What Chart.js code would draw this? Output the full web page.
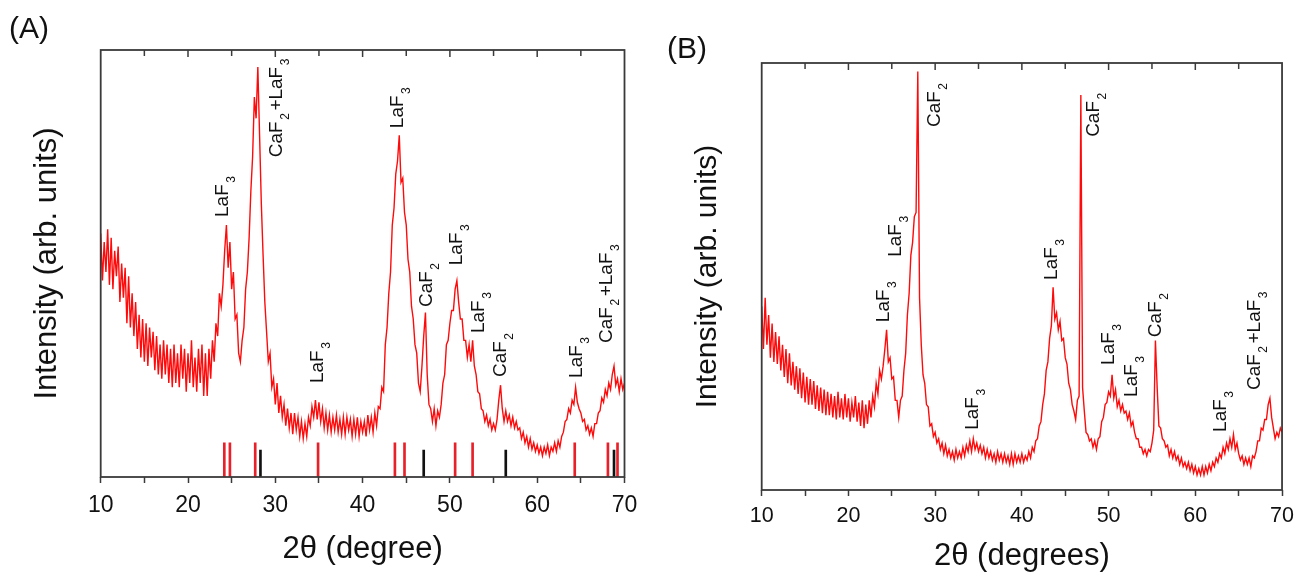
<!DOCTYPE html>
<html>
<head>
<meta charset="utf-8">
<title>XRD patterns (A) and (B)</title>
<script src="https://cdn.jsdelivr.net/npm/chart.js@4.4.1/dist/chart.umd.min.js"></script>
<style>
  html, body { margin: 0; padding: 0; background: #fff; }
  body { width: 1301px; height: 572px; position: relative; overflow: hidden;
         font-family: "Liberation Sans", Arial, Helvetica, sans-serif; }
  .panel { position: absolute; top: 0; height: 572px; }
  #boxA { left: 0; width: 650px; }
  #boxB { left: 650px; width: 651px; }
  .tag { position: absolute; font-size: 30px; color: #111; }
</style>
</head>
<body>
<div class="panel" id="boxA"><canvas id="chartA"></canvas></div>
<div class="panel" id="boxB"><canvas id="chartB"></canvas></div>
<div class="tag" style="left:9px; top:11px">(A)</div>
<div class="tag" style="left:667px; top:31px">(B)</div>

<script>
var FONT = '"Liberation Sans", Arial, Helvetica, sans-serif';

// scan grid: 10..70 degrees, 0.2 degree step
var scanStart = 10;
var scanStep = 0.2;
var scanCount = 301;
var angles = [];
for (var i = 0; i < scanCount; i++) {
    angles.push(+(scanStart + i * scanStep).toFixed(1));
}

var xTickLabels = [10, 20, 30, 40, 50, 60, 70];

// Panel A intensity (arb. units, 0-100), 5 points per degree
var intensityA = [
    57, 46, 55, 48, 58,   45, 56, 44, 53, 47,      // 10, 11
    54, 41, 50, 42, 49,   36, 47, 35, 43, 33,      // 12, 13
    41, 30, 38, 28, 37,   27, 36, 26, 35, 28,      // 14, 15
    34, 25, 33, 24, 31,   23, 32, 24, 31, 22,      // 16, 17
    30, 21, 31, 22, 29,   21, 31, 23, 30, 20,      // 18, 19
    29, 22, 32, 21, 28,   20, 30, 22, 31, 19,      // 20, 21
    29, 19, 30, 23, 32,   27, 36, 33, 43, 40,      // 22, 23
    45, 53, 59, 49, 55,   44, 48, 37, 38, 29,      // 24, 25
    27, 32, 35, 44, 48,   56, 67, 75, 89, 84,      // 26, 27
    96, 80, 64, 52, 41,   34, 27, 29, 21, 23,      // 28, 29
    17, 22, 15, 19, 14,   17, 12, 16, 11.5, 15,    // 30, 31
    10, 15, 11, 14, 9.5,  13, 9, 12.5, 9.5, 14,    // 32, 33
    12, 16.5, 14, 18, 13.5,  17.5, 13, 16, 11.5, 15,   // 34, 35
    11, 14.5, 10.5, 14, 11,  14.5, 10.5, 13.5, 10, 14, // 36, 37
    10, 14, 11, 13.5, 9.5,   13.5, 10, 14, 9.5, 13,    // 38, 39
    10.5, 13, 9.5, 14.5, 11, 14, 10.5, 15, 12, 16.5,   // 40, 41
    16, 21, 20, 31, 35,   43, 48, 59, 63, 71,      // 42, 43
    74, 80, 69, 70, 62,   59, 51, 48, 40, 37,      // 44, 45
    31, 29, 22, 20, 26,   33, 38.5, 24, 17, 16,    // 46, 47
    13, 16, 12, 15.5, 14, 17, 22, 24, 31, 32,      // 48, 49
    36, 39, 39, 44, 46,   41, 37, 37, 32, 32,      // 50, 51
    28, 31, 27, 32, 26,   24, 20, 19.5, 16, 15.5,  // 52, 53
    13, 14.5, 12, 13.5, 11,  12.5, 11, 13.5, 18, 21.5, // 54, 55
    16, 13, 15.5, 13, 14.5,  12, 14, 11.5, 13, 11,     // 56, 57
    11.5, 9, 10.5, 8, 9.5,   7, 9, 6.5, 8, 6,          // 58, 59
    7.5, 5.5, 7, 5, 7,       5.5, 7.5, 5, 7, 6,        // 60, 61
    8, 6, 8.5, 7, 9.5,       10.5, 13, 13.5, 16, 15,   // 62, 63
    18, 17, 21, 17.5, 16,    15, 13, 13.5, 11, 12,     // 64, 65
    10, 11.5, 9.5, 12.5, 12.5, 15, 15.5, 18.5, 17.5, 20.5, // 66, 67
    19, 22, 20.5, 24, 26,    21.5, 23, 20, 23, 20.5,   // 68, 69
    22                                                 // 70
];

// Panel B intensity (arb. units, 0-100)
var intensityB = [
    43, 33, 45, 34, 41,   31, 39, 30, 37, 29.5,    // 10, 11
    36, 28, 34, 26.5, 33, 25, 32, 24.5, 30, 23.5,  // 12, 13
    29, 22.5, 28.5, 21.5, 27.5, 20.5, 26.5, 20, 26, 20, // 14, 15
    25.5, 19, 24.5, 18.5, 24,   18, 23.5, 17.5, 23, 17.5, // 16, 17
    22.5, 17, 22, 16.5, 23,     17, 21.5, 16.5, 22.5, 17, // 18, 19
    21.5, 16, 20.5, 17, 22,     16, 20.5, 15, 21, 14.5,   // 20, 21
    20, 15.5, 21, 17, 22,       19.5, 25, 22.5, 28, 26,   // 22, 23
    29, 33, 37.5, 30, 31,       26, 26.5, 21, 21, 17,     // 24, 25
    21, 22, 28, 32, 41,         46, 55, 58, 64, 65,       // 26, 27
    98, 45, 34, 27, 25,         20, 19.5, 15, 15.5, 12.5, // 28, 29
    13.5, 11, 12, 9.5, 11,      8.5, 10.5, 8, 9.5, 7.5,   // 30, 31
    9, 7, 9.5, 7.5, 9,          7.5, 10, 8, 10.5, 9,      // 32, 33
    11.5, 9, 12, 9.5, 11,       9, 10.5, 8.5, 10, 7.5,    // 34, 35
    9.5, 7.5, 9, 7, 8.5,        6.5, 9, 7, 8.5, 6.5,      // 36, 37
    8.5, 6.5, 8, 6, 8.5,        6, 8.5, 6.5, 8, 6.5,      // 38, 39
    8.5, 6.5, 8, 7, 9,          7.5, 10, 9, 11.5, 12,     // 40, 41
    15, 16, 20, 22.5, 28,       30, 35.5, 38.5, 47.5, 40, // 42, 43
    41.5, 37.5, 39.5, 35, 35.5, 31, 29.5, 25, 23.5, 20,   // 44, 45
    18.5, 16.5, 21, 22, 92.5,   24, 18.5, 13.5, 13, 11.5, // 46, 47
    12, 10, 11.5, 9.5, 12,      12.5, 16, 17, 20, 20.5,   // 48, 49
    23, 22, 27, 21.5, 23.5,     19.5, 21, 18.5, 20, 18,   // 50, 51
    18.5, 16.5, 18, 15, 16,     13.5, 12, 12, 10, 10,     // 52, 53
    8.5, 9.5, 8, 9.5, 9,        11, 14, 35, 24, 15,       // 54, 55
    14.5, 12, 11.5, 10, 10.5,   8, 9.5, 7.5, 9, 7,        // 56, 57
    8, 6, 7.5, 5.5, 6.5,        5, 6.5, 4.5, 6, 4,        // 58, 59
    5.5, 3.5, 5, 3.5, 5.5,      3.5, 5.5, 4, 6, 4.5,      // 60, 61
    6.5, 5.5, 7.5, 6.5, 8.5,    7.5, 10, 8.5, 11, 9.5,    // 62, 63
    12, 10, 13, 9.5, 11,        8.5, 7, 8, 6, 7.5,        // 64, 65
    6, 7.5, 5.5, 8, 7.5,        9, 11.5, 11.5, 14.5, 14,  // 66, 67
    16.5, 16.5, 20, 21.5, 17,   14.5, 12, 13.5, 12.5, 14.5, // 68, 69
    13.5                                                   // 70
];

// reference patterns drawn under panel A (LaF3 red, CaF2 black)
var laf3RefPos = [24.16, 24.8, 27.7, 34.9, 43.7, 44.8, 50.6, 52.6, 64.3, 68.1, 69.2];
var laf3RefHeight = [8, 8, 8, 8, 8, 8, 8, 8, 8, 8, 8];
var caf2RefPos = [28.3, 47.0, 56.4, 68.8];
var caf2RefHeight = [6.3, 6.3, 6.3, 6.3];

// peak labels: text pieces (normal, subscript, ...), angle and intensity of the text start
var peakLabelsA = [
    [['LaF', '3'], 24.58, 60.9],
    [['CaF', '2', '+LaF', '3'], 30.77, 74.9],
    [['LaF', '3'], 35.46, 22],
    [['LaF', '3'], 44.63, 81.7],
    [['CaF', '2'], 47.95, 39.8],
    [['LaF', '3'], 51.39, 49.6],
    [['LaF', '3'], 53.91, 33.7],
    [['CaF', '2'], 56.43, 23.4],
    [['LaF', '3'], 65.13, 23.2],
    [['CaF', '2', '+LaF', '3'], 68.57, 31.4]
];
var peakLabelsB = [
    [['CaF', '2'], 30.6, 85],
    [['LaF', '3'], 26.03, 54.6],
    [['LaF', '3'], 24.66, 39.3],
    [['LaF', '3'], 34.95, 14.1],
    [['CaF', '2'], 48.89, 82.7],
    [['LaF', '3'], 44.09, 49.2],
    [['LaF', '3'], 50.61, 29.3],
    [['LaF', '3'], 53.24, 21.8],
    [['CaF', '2'], 56.09, 35.8],
    [['LaF', '3'], 63.58, 13.6],
    [['CaF', '2', '+LaF', '3'], 67.46, 23.4]
];

function toPoints(xs, ys) {
    return ys.map(function (v, i) { return { x: xs[i], y: v }; });
}

// box around the plot, inward ticks on the top edge, rotated peak labels
var framePlugin = {
    id: 'frame',
    afterDraw: function (chart, args, opts) {
        var ctx = chart.ctx;
        var a = chart.chartArea;
        var xs = chart.scales.x;
        var ys = chart.scales.y;
        ctx.save();
        ctx.strokeStyle = '#3a3a3a';
        ctx.lineWidth = 1.8;
        ctx.strokeRect(a.left, a.top, a.right - a.left, a.bottom - a.top);
        ctx.lineWidth = 1.5;
        xs.ticks.forEach(function (t) {
            var px = xs.getPixelForValue(t.value);
            if (px <= a.left + 1 || px >= a.right - 1) return;
            ctx.beginPath();
            ctx.moveTo(px, a.top);
            ctx.lineTo(px, a.top + (t.value % 10 === 0 ? 7 : 6));
            ctx.stroke();
        });

        ctx.fillStyle = '#111';
        ctx.textBaseline = 'alphabetic';
        ctx.textAlign = 'left';
        (opts.labels || []).forEach(function (lab) {
            var px = xs.getPixelForValue(lab[1]);
            var py = ys.getPixelForValue(lab[2]);
            ctx.save();
            ctx.translate(px, py);
            ctx.rotate(-Math.PI / 2);
            var off = 0;
            lab[0].forEach(function (piece, k) {
                var sub = k % 2 === 1;
                ctx.font = (sub ? '12px ' : '19px ') + FONT;
                ctx.fillText(piece, off + (sub ? 1.5 : 0), sub ? 7 : 0);
                off += ctx.measureText(piece).width + (sub ? 4 : 0);
            });
            ctx.restore();
        });
        ctx.restore();
    }
};

function makeChart(id, values, opts) {
    var datasets = [{
        type: 'line',
        data: toPoints(angles, values),
        borderColor: '#ff0a0a',
        borderWidth: 1.4,
        pointRadius: 0,
        tension: 0,
        fill: false,
        order: 1
    }];
    if (opts.refs) {
        datasets.push({
            type: 'bar',
            data: toPoints(laf3RefPos, laf3RefHeight),
            backgroundColor: '#e8202a',
            barThickness: 2,
            grouped: false,
            order: 2
        });
        datasets.push({
            type: 'bar',
            data: toPoints(caf2RefPos, caf2RefHeight),
            backgroundColor: '#111',
            barThickness: 2,
            grouped: false,
            order: 2
        });
    }

    return new Chart(document.getElementById(id), {
        type: 'line',
        data: { datasets: datasets },
        options: {
            responsive: true,
            maintainAspectRatio: false,
            animation: false,
            events: [],
            layout: { padding: { top: opts.top, right: opts.right, left: 0, bottom: 0 } },
            plugins: {
                legend: { display: false },
                tooltip: { enabled: false },
                frame: { labels: opts.labels }
            },
            scales: {
                x: {
                    type: 'linear',
                    min: 10,
                    max: 70,
                    offset: false,
                    border: { display: false },
                    grid: {
                        display: true,
                        offset: false,
                        drawOnChartArea: false,
                        drawTicks: true,
                        tickLength: 6,
                        tickWidth: 1.5,
                        tickColor: '#3a3a3a'
                    },
                    ticks: {
                        stepSize: 5,
                        autoSkip: false,
                        maxRotation: 0,
                        padding: opts.tickPad,
                        color: '#111',
                        font: { family: FONT, size: opts.tickSize },
                        callback: function (v) {
                            return xTickLabels.indexOf(v) >= 0 ? String(v) : '';
                        }
                    },
                    title: {
                        display: true,
                        text: opts.xTitle,
                        color: '#111',
                        font: { family: FONT, size: 31, lineHeight: 1.2 },
                        padding: { top: 0, bottom: opts.xTitlePad }
                    },
                    afterFit: function (s) { s.height = opts.xHeight; }
                },
                y: {
                    min: 0,
                    max: 100,
                    border: { display: false },
                    grid: { display: false },
                    ticks: { display: false },
                    title: {
                        display: true,
                        text: 'Intensity (arb. units)',
                        color: '#111',
                        font: { family: FONT, size: opts.yTitleSize, lineHeight: 1.2 },
                        padding: { top: opts.yTitlePad, bottom: 0 }
                    },
                    afterFit: function (s) { s.width = opts.yWidth; }
                }
            }
        },
        plugins: [framePlugin]
    });
}

makeChart('chartA', intensityA, {
    refs: true,
    labels: peakLabelsA,
    top: 50, right: 25.5, yWidth: 100.7, xHeight: 95,
    tickSize: 23, tickPad: 9,
    xTitle: '2\u03b8 (degree)', xTitlePad: 4,
    yTitleSize: 31, yTitlePad: 28.6
});

makeChart('chartB', intensityB, {
    refs: false,
    labels: peakLabelsB,
    top: 63, right: 14.3, yWidth: 111.7, xHeight: 82,
    tickSize: 21.5, tickPad: 7,
    xTitle: '2\u03b8 (degrees)', xTitlePad: -3,
    yTitleSize: 30, yTitlePad: 39.7
});
</script>
</body>
</html>
